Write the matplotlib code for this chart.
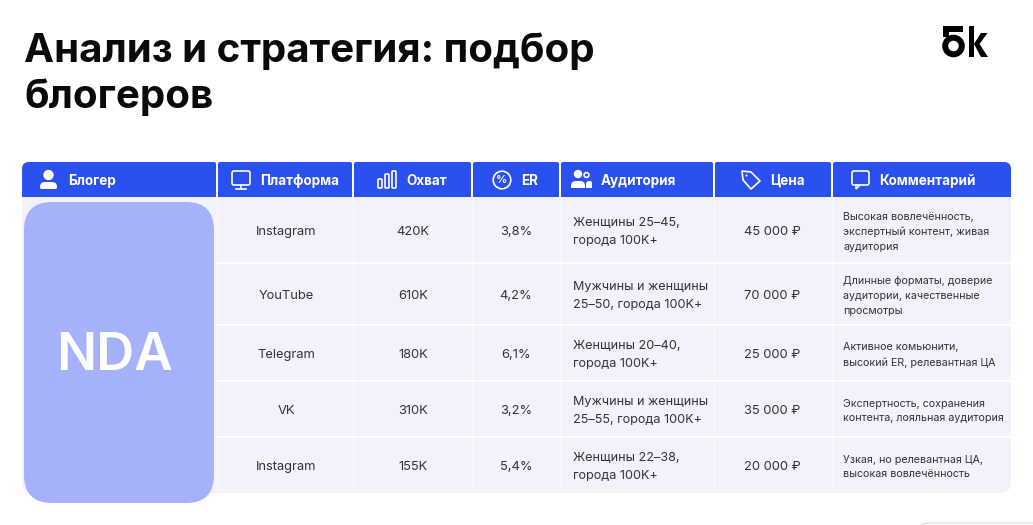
import matplotlib
matplotlib.use("Agg")
import matplotlib.pyplot as plt
from matplotlib.patches import Rectangle, Circle, FancyBboxPatch, PathPatch, Polygon
from matplotlib.path import Path

plt.rcParams['font.family'] = ['Inter', 'DejaVu Sans']

title_lines = ["Анализ и стратегия: подбор", "блогеров"]
headers = ["Блогер", "Платформа", "Охват", "ER", "Аудитория", "Цена", "Комментарий"]
platforms = ["Instagram", "YouTube", "Telegram", "VK", "Instagram"]
reach = ["420K", "610K", "180K", "310K", "155K"]
er = ["3,8%", "4,2%", "6,1%", "3,2%", "5,4%"]
audience = ["Женщины 25–45,\nгорода 100K+",
            "Мужчины и женщины\n25–50, города 100K+",
            "Женщины 20–40,\nгорода 100K+",
            "Мужчины и женщины\n25–55, города 100K+",
            "Женщины 22–38,\nгорода 100K+"]
price = ["45 000 ₽", "70 000 ₽", "25 000 ₽", "35 000 ₽", "20 000 ₽"]
comments = ["Высокая вовлечённость,\nэкспертный контент, живая\nаудитория",
            "Длинные форматы, доверие\nаудитории, качественные\nпросмотры",
            "Активное комьюнити,\nвысокий ER, релевантная ЦА",
            "Экспертность, сохранения\nконтента, лояльная аудитория",
            "Узкая, но релевантная ЦА,\nвысокая вовлечённость"]

col_edges = [22, 217, 353, 472, 560, 714, 832, 1011]
row_edges = [197, 263, 325, 381, 437, 493]
header_label_x = [68, 260, 406, 521, 601, 770, 879]

BLUE = "#2b50f0"
ROW_BG = "#f2f2fb"
TEXT = "#33333d"

fig = plt.figure(figsize=(10.33, 5.25), dpi=100)
ax = fig.add_axes([0, 0, 1, 1])
ax.set_xlim(0, 1033)
ax.set_ylim(525, 0)
ax.axis("off")


def corner_rect(x0, y0, x1, y1, color, tl=0, tr=0, br=0, bl=0, z=2):
    # rectangle with separately rounded corners
    verts = [(x0 + tl, y0), (x1 - tr, y0), (x1, y0), (x1, y0 + tr),
             (x1, y1 - br), (x1, y1), (x1 - br, y1),
             (x0 + bl, y1), (x0, y1), (x0, y1 - bl),
             (x0, y0 + tl), (x0, y0), (x0 + tl, y0), (x0 + tl, y0)]
    codes = [Path.MOVETO, Path.LINETO, Path.CURVE3, Path.CURVE3,
             Path.LINETO, Path.CURVE3, Path.CURVE3,
             Path.LINETO, Path.CURVE3, Path.CURVE3,
             Path.LINETO, Path.CURVE3, Path.CURVE3, Path.CLOSEPOLY]
    ax.add_patch(PathPatch(Path(verts, codes), fc=color, ec="none", zorder=z))


def outline(patch):
    patch.set(fc="none", ec="white", lw=1.2, zorder=4)
    ax.add_patch(patch)


def solid(patch):
    patch.set(fc="white", ec="none", zorder=4)
    ax.add_patch(patch)


def round_box(x0, y0, x1, y1, r):
    return FancyBboxPatch((x0 + r, y0 + r), x1 - x0 - 2 * r, y1 - y0 - 2 * r,
                          boxstyle=f"round,pad={r},rounding_size={r}")


# header and table body
n_cols = len(headers)
corner_rect(col_edges[0], row_edges[0], col_edges[-1], row_edges[-1], ROW_BG, br=11, bl=11, z=1)
for i in range(n_cols):
    corner_rect(col_edges[i] + (1 if i else 0), 162, col_edges[i + 1] - (1 if i < n_cols - 1 else 0), 197, BLUE,
                tl=7 if i == 0 else 2, tr=7 if i == n_cols - 1 else 2, z=2)
    ax.text(header_label_x[i], 181, headers[i], color="white", fontsize=9.7, fontweight="bold",
            va="center", ha="left", zorder=5)

# white grid lines between cells
for x in col_edges[1:-1]:
    ax.plot([x, x], [row_edges[0], row_edges[-1]], color="white", lw=0.8, alpha=0.6, zorder=2)
for y in row_edges[1:-1]:
    ax.plot([col_edges[1], col_edges[-1]], [y, y], color="white", lw=1.2, zorder=2)

# cells
for r in range(len(platforms)):
    yc = (row_edges[r] + row_edges[r + 1]) / 2 + 2
    ax.text(286, yc, platforms[r], ha="center", va="center", fontsize=9.3, color=TEXT, zorder=5)
    ax.text(413, yc, reach[r], ha="center", va="center", fontsize=9.3, color=TEXT, zorder=5)
    ax.text(516, yc, er[r], ha="center", va="center", fontsize=9.3, color=TEXT, zorder=5)
    ax.text(573, yc, audience[r], ha="left", va="center", fontsize=9.1, color=TEXT, linespacing=1.6, zorder=5)
    ax.text(772, yc, price[r], ha="center", va="center", fontsize=9.3, color=TEXT, zorder=5)
    ax.text(843, yc, comments[r], ha="left", va="center", fontsize=7.7, color=TEXT, linespacing=1.6, zorder=5)

# NDA card over the first column
card = round_box(24, 202, 214, 503, 28)
card.set(fc="#a5b1fb", ec="none", zorder=3)
ax.add_patch(card)
ax.text(114, 357, "NDA", color="white", fontsize=38, fontweight="semibold", ha="center", va="center", zorder=5)

# title and logo
ax.text(24, 62, title_lines[0], color="#0a0a0a", fontsize=29, fontweight="bold", ha="left", va="baseline", zorder=5)
ax.text(24, 108, title_lines[1], color="#0a0a0a", fontsize=29, fontweight="bold", ha="left", va="baseline", zorder=5)
ax.add_patch(Rectangle((943, 26), 20, 6, fc="black", ec="none"))
ax.add_patch(Rectangle((943, 26), 6, 11, fc="black", ec="none"))
ax.add_patch(Circle((953.5, 46), 8.3, fc="none", ec="black", lw=4.3))
ax.add_patch(Rectangle((968.5, 26), 5.5, 31, fc="black", ec="none"))
ax.add_patch(Polygon([(974, 44), (981, 33), (987.5, 33), (979.5, 44), (988, 57), (981, 57)], fc="black", ec="none"))

# header icons
solid(Circle((48.5, 175), 5.2))
corner_rect(40, 182, 57, 189, "white", tl=5, tr=5, br=1.5, bl=1.5, z=4)

outline(round_box(232, 171, 250, 185, 2))
ax.plot([241, 241], [185, 188], color="white", lw=1.2, zorder=4)
ax.plot([236, 246], [188.5, 188.5], color="white", lw=1.2, zorder=4)

outline(round_box(378, 179, 382, 188, 1))
outline(round_box(385, 174, 389, 188, 1))
outline(round_box(392, 171, 396, 188, 1))

outline(Circle((502, 180), 8.8))
ax.text(502, 180, "%", color="white", fontsize=8, fontweight="bold", ha="center", va="center", zorder=5)

solid(Circle((578, 174), 4.2))
corner_rect(571, 181, 585, 188, "white", tl=5, tr=5, z=4)
outline(Circle((586.5, 175), 2.4))
corner_rect(586, 181, 592, 188, "white", tl=3, tr=2, z=4)

outline(Polygon([(742, 171), (751, 172), (760, 181), (751, 189), (743, 180)], joinstyle="round"))
solid(Circle((746.5, 175.5), 1))

outline(round_box(852, 171, 869, 185, 2))
outline(Polygon([(856, 185), (856, 189), (860, 185)]))

# clipped outline at the bottom edge of the picture
ax.add_patch(FancyBboxPatch((922, 523), 130, 10, boxstyle="round,pad=0,rounding_size=8",
                            fc="none", ec="#d8d8d8", lw=0.8))

fig.savefig("out.png", dpi=100)
